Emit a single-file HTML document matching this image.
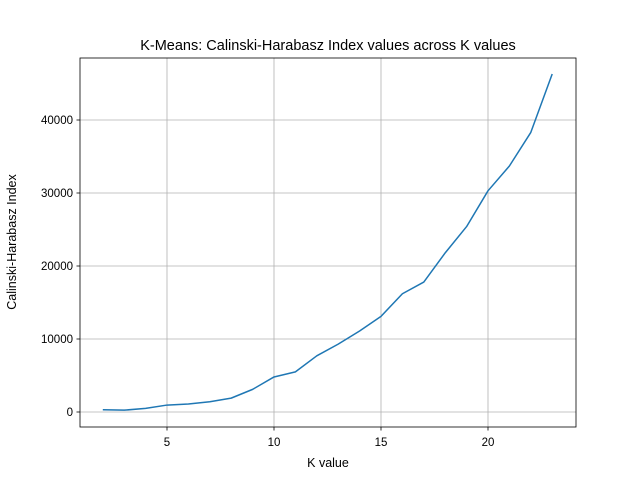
<!DOCTYPE html>
<html><head><meta charset="utf-8"><style>
body{margin:0;background:#fff;}
svg{display:block;font-family:"Liberation Sans","DejaVu Sans",sans-serif;}
</style></head><body>
<svg id="chart" width="640" height="480">
<rect width="640" height="480" fill="#fff"/>
<text x="328" y="50" text-anchor="middle" font-size="14.5">K-Means: Calinski-Harabasz Index values across K values</text>
<g id="grid"></g><g id="ticks"></g><g id="plot"></g>
<rect x="80" y="58" width="496" height="369" fill="none" stroke="#000" stroke-width="0.8"/>
<text x="328" y="467" text-anchor="middle" font-size="12.5">K value</text>
<text transform="translate(16,242) rotate(-90)" text-anchor="middle" font-size="12.5">Calinski-Harabasz Index</text>
</svg>
<script>
const kValues=[2,3,4,5,6,7,8,9,10,11,12,13,14,15,16,17,18,19,20,21,22,23];
const chValues=[300,250,500,950,1100,1400,1900,3100,4800,5500,7700,9300,11100,13100,16200,17800,21800,25400,30300,33700,38300,46300];
const xTicks=[5,10,15,20];
const yTicks=[0,10000,20000,30000,40000];
const NS="http://www.w3.org/2000/svg";
const x=v=>167+(v-5)*21.4;
const y=v=>412-v*0.0073;
function mk(t,a,p){const e=document.createElementNS(NS,t);for(const k in a)e.setAttribute(k,a[k]);document.getElementById(p).appendChild(e);return e;}
xTicks.forEach(t=>{
 const g=mk('line',{x1:x(t),x2:x(t),y1:58,y2:427,stroke:'#b0b0b0','stroke-width':0.8},'grid');
 
 
 mk('line',{x1:x(t),x2:x(t),y1:427,y2:430.5,stroke:'#000','stroke-width':0.8},'ticks');
 const l=mk('text',{x:x(t),y:446,'text-anchor':'middle','font-size':11.5},'ticks');
 l.textContent=t;
 
 
});
yTicks.forEach(t=>{
 const g=mk('line',{x1:80,x2:576,y1:y(t),y2:y(t),stroke:'#b0b0b0','stroke-width':0.8},'grid');
 
 
 mk('line',{x1:76.5,x2:80,y1:y(t),y2:y(t),stroke:'#000','stroke-width':0.8},'ticks');
 const l=mk('text',{x:73,y:y(t)+4,'text-anchor':'end','font-size':11.5},'ticks');
 l.textContent=t;
 
 
});
const line=mk('polyline',{points:kValues.map((k,i)=>x(k)+','+y(chValues[i])).join(' '),fill:'none',stroke:'#1f77b4','stroke-width':1.5,'stroke-linejoin':'round'},'plot');


</script>
</body></html>
